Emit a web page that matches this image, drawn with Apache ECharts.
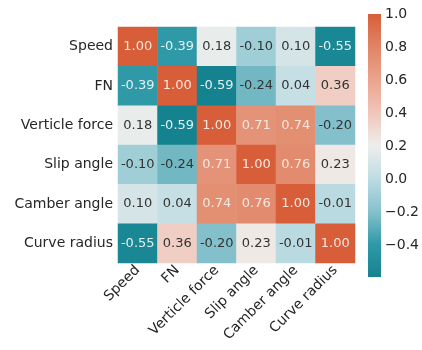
<!DOCTYPE html>
<html>
<head>
<meta charset="utf-8">
<script src="https://cdn.jsdelivr.net/npm/echarts@6/dist/echarts.min.js"></script>
<style>
html,body{margin:0;padding:0;background:#fff;}
#c{width:422px;height:350px;}
</style>
</head>
<body>
<div id="c"></div>
<script>
var categories = ['Speed', 'FN', 'Verticle force', 'Slip angle', 'Camber angle', 'Curve radius'];
var corrSpeed   = [1.00, -0.39, 0.18, -0.10, 0.10, -0.55];
var corrFN      = [-0.39, 1.00, -0.59, -0.24, 0.04, 0.36];
var corrVert    = [0.18, -0.59, 1.00, 0.71, 0.74, -0.20];
var corrSlip    = [-0.10, -0.24, 0.71, 1.00, 0.76, 0.23];
var corrCamber  = [0.10, 0.04, 0.74, 0.76, 1.00, -0.01];
var corrCurve   = [-0.55, 0.36, -0.20, 0.23, -0.01, 1.00];
var colorbarTicks = [-0.4, -0.2, 0.0, 0.2, 0.4, 0.6, 0.8, 1.0];
var vMin = -0.59, vMax = 1.0;
var palette = ['#15838f', '#2f99a8', '#86c2cc', '#bedce3', '#eeeeec', '#f1c5b8', '#eaa48e', '#e08565', '#d75e38'];

var rows = [corrSpeed, corrFN, corrVert, corrSlip, corrCamber, corrCurve];
var data = [];
rows.forEach(function (row, yi) {
  row.forEach(function (v, xi) {
    var light = (v >= 0.6 || v <= -0.35);
    data.push({
      value: [xi, yi, v],
      label: { color: light ? (v > 0 ? '#f7e7df' : '#e2f1f3') : '#333333' }
    });
  });
});

var chart = echarts.init(document.getElementById('c'), null, { renderer: 'canvas' });
var font = 'DejaVu Sans';
chart.setOption({
  animation: false,
  backgroundColor: '#ffffff',
  grid: [
    { left: 118, top: 27, width: 237, height: 236 },
    { left: 368, top: 14, width: 15, height: 263 }
  ],
  xAxis: [
    {
      type: 'category', data: categories, gridIndex: 0,
      axisLine: { show: false }, axisTick: { show: false }, splitLine: { show: false },
      axisLabel: { rotate: 45, margin: 5, fontFamily: font, fontSize: 14, color: '#262626' }
    },
    { type: 'value', gridIndex: 1, min: 0, max: 1, show: false }
  ],
  yAxis: [
    {
      type: 'category', data: categories, gridIndex: 0, inverse: true,
      axisLine: { show: false }, axisTick: { show: false }, splitLine: { show: false },
      axisLabel: { margin: 5, fontFamily: font, fontSize: 14, color: '#262626' }
    },
    {
      type: 'value', gridIndex: 1, min: vMin, max: vMax, position: 'right',
      axisLine: { show: false },
      splitLine: { show: false },
      axisTick: { show: true, length: 4, customValues: colorbarTicks, lineStyle: { color: '#333', width: 1 } },
      axisLabel: {
        show: true, margin: 4, fontFamily: font, fontSize: 14, color: '#262626',
        customValues: colorbarTicks,
        formatter: function (v) { return (v < 0 ? '\u2212' : '') + Math.abs(v).toFixed(1); }
      }
    }
  ],
  visualMap: {
    type: 'continuous',
    show: false,
    seriesIndex: 0,
    min: vMin, max: vMax,
    inRange: { color: palette }
  },
  series: [
    {
      type: 'heatmap',
      xAxisIndex: 0, yAxisIndex: 0,
      data: data,
      itemStyle: { borderWidth: 0 },
      label: { show: true, fontFamily: font, fontSize: 13,
        formatter: function (p) { return p.value[2].toFixed(2); } },
      emphasis: { disabled: true }
    },
    {
      type: 'custom', xAxisIndex: 1, yAxisIndex: 1, silent: true,
      data: [[0, vMin, 1, vMax]],
      renderItem: function (params, api) {
        var p0 = api.coord([api.value(0), api.value(3)]);
        var p1 = api.coord([api.value(2), api.value(1)]);
        var stops = palette.slice().reverse().map(function (c, i, arr) {
          return { offset: i / (arr.length - 1), color: c };
        });
        return {
          type: 'rect',
          shape: { x: p0[0], y: p0[1], width: p1[0] - p0[0], height: p1[1] - p0[1] },
          style: { fill: new echarts.graphic.LinearGradient(0, 0, 0, 1, stops) }
        };
      }
    }
  ]
});
</script>
</body>
</html>
